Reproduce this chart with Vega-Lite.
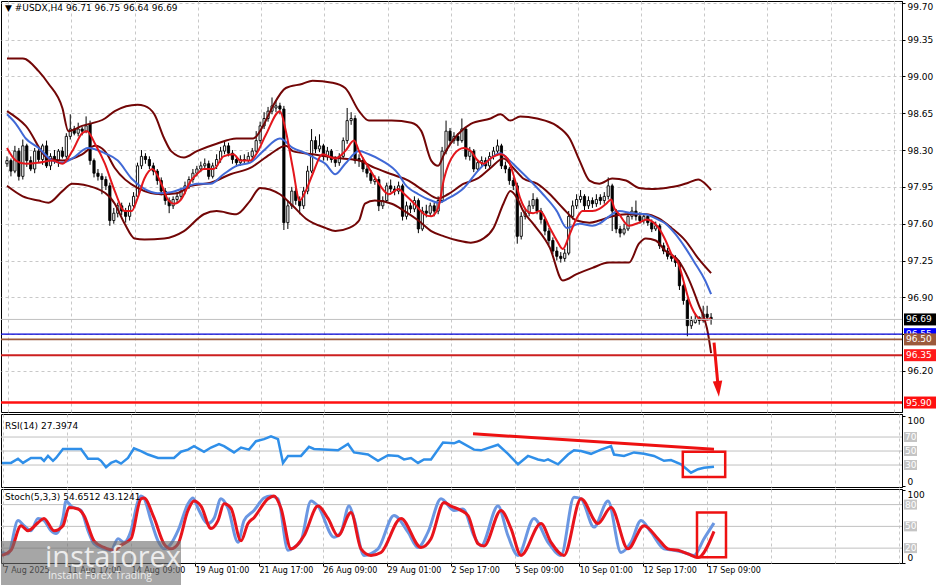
{
  "$schema": "https://vega.github.io/schema/vega-lite/v6.json",
  "background": "white",
  "padding": 0,
  "spacing": 0,
  "config": {
    "view": {"stroke": "black", "strokeWidth": 1},
    "font": "DejaVu Sans",
    "axis": {"labelFont": "DejaVu Sans", "labelFontSize": 9, "labelColor": "black", "domainColor": "black", "tickColor": "black", "gridColor": "#c8c8c8", "gridDash": [3, 3], "gridWidth": 1},
    "title": {"font": "DejaVu Sans", "fontSize": 9, "fontWeight": "normal", "color": "black", "anchor": "start"}
  },
  "datasets": {
    "candles": [
      {"i":0,"o":98.17,"h":98.24,"l":98.14,"c":98.20},{"i":1,"o":98.20,"h":98.22,"l":98.05,"c":98.10},{"i":2,"o":98.10,"h":98.34,"l":98.08,"c":98.29},{"i":3,"o":98.29,"h":98.32,"l":98.01,"c":98.05},{"i":4,"o":98.05,"h":98.40,"l":98.02,"c":98.34},{"i":5,"o":98.34,"h":98.36,"l":98.14,"c":98.20},{"i":6,"o":98.20,"h":98.24,"l":98.10,"c":98.12},{"i":7,"o":98.12,"h":98.32,"l":98.08,"c":98.29},{"i":8,"o":98.29,"h":98.33,"l":98.18,"c":98.21},{"i":9,"o":98.21,"h":98.36,"l":98.16,"c":98.34},
      {"i":10,"o":98.34,"h":98.39,"l":98.13,"c":98.15},{"i":11,"o":98.15,"h":98.27,"l":98.11,"c":98.24},{"i":12,"o":98.24,"h":98.30,"l":98.17,"c":98.20},{"i":13,"o":98.20,"h":98.31,"l":98.14,"c":98.29},{"i":14,"o":98.29,"h":98.33,"l":98.22,"c":98.24},{"i":15,"o":98.24,"h":98.46,"l":98.20,"c":98.43},{"i":16,"o":98.43,"h":98.64,"l":98.40,"c":98.50},{"i":17,"o":98.50,"h":98.53,"l":98.44,"c":98.46},{"i":18,"o":98.46,"h":98.56,"l":98.43,"c":98.50},{"i":19,"o":98.50,"h":98.52,"l":98.44,"c":98.48},
      {"i":20,"o":98.48,"h":98.62,"l":98.46,"c":98.53},{"i":21,"o":98.55,"h":98.58,"l":98.16,"c":98.20},{"i":22,"o":98.20,"h":98.22,"l":98.04,"c":98.08},{"i":23,"o":98.08,"h":98.12,"l":98.01,"c":98.05},{"i":24,"o":98.05,"h":98.08,"l":97.88,"c":98.02},{"i":25,"o":98.02,"h":98.05,"l":97.92,"c":97.96},{"i":26,"o":97.96,"h":97.99,"l":97.58,"c":97.63},{"i":27,"o":97.63,"h":97.75,"l":97.60,"c":97.70},{"i":28,"o":97.70,"h":97.80,"l":97.66,"c":97.77},{"i":29,"o":97.77,"h":97.80,"l":97.68,"c":97.72},
      {"i":30,"o":97.72,"h":97.75,"l":97.61,"c":97.67},{"i":31,"o":97.67,"h":97.80,"l":97.63,"c":97.77},{"i":32,"o":97.77,"h":97.90,"l":97.75,"c":97.86},{"i":33,"o":97.86,"h":98.18,"l":97.84,"c":98.15},{"i":34,"o":98.15,"h":98.30,"l":98.12,"c":98.24},{"i":35,"o":98.24,"h":98.27,"l":98.17,"c":98.21},{"i":36,"o":98.21,"h":98.24,"l":98.12,"c":98.15},{"i":37,"o":98.15,"h":98.18,"l":98.06,"c":98.10},{"i":38,"o":98.10,"h":98.12,"l":97.97,"c":98.01},{"i":39,"o":98.01,"h":98.04,"l":97.87,"c":97.91},
      {"i":40,"o":97.91,"h":97.94,"l":97.78,"c":97.82},{"i":41,"o":97.82,"h":97.85,"l":97.70,"c":97.77},{"i":42,"o":97.77,"h":97.86,"l":97.74,"c":97.83},{"i":43,"o":97.83,"h":97.90,"l":97.80,"c":97.86},{"i":44,"o":97.86,"h":97.94,"l":97.83,"c":97.91},{"i":45,"o":97.91,"h":98.00,"l":97.88,"c":97.96},{"i":46,"o":97.96,"h":98.05,"l":97.93,"c":98.02},{"i":47,"o":98.02,"h":98.12,"l":97.99,"c":98.08},{"i":48,"o":98.08,"h":98.15,"l":98.05,"c":98.12},{"i":49,"o":98.12,"h":98.19,"l":98.09,"c":98.15},
      {"i":50,"o":98.15,"h":98.22,"l":98.12,"c":98.17},{"i":51,"o":98.17,"h":98.20,"l":98.02,"c":98.05},{"i":52,"o":98.05,"h":98.18,"l":98.03,"c":98.15},{"i":53,"o":98.15,"h":98.26,"l":98.12,"c":98.21},{"i":54,"o":98.21,"h":98.33,"l":98.18,"c":98.29},{"i":55,"o":98.29,"h":98.39,"l":98.26,"c":98.34},{"i":56,"o":98.34,"h":98.37,"l":98.24,"c":98.27},{"i":57,"o":98.27,"h":98.30,"l":98.17,"c":98.21},{"i":58,"o":98.21,"h":98.24,"l":98.14,"c":98.18},{"i":59,"o":98.18,"h":98.25,"l":98.15,"c":98.21},
      {"i":60,"o":98.21,"h":98.26,"l":98.16,"c":98.20},{"i":61,"o":98.20,"h":98.28,"l":98.17,"c":98.24},{"i":62,"o":98.24,"h":98.32,"l":98.20,"c":98.29},{"i":63,"o":98.29,"h":98.48,"l":98.27,"c":98.39},{"i":64,"o":98.39,"h":98.57,"l":98.36,"c":98.53},{"i":65,"o":98.53,"h":98.66,"l":98.50,"c":98.60},{"i":66,"o":98.60,"h":98.71,"l":98.57,"c":98.67},{"i":67,"o":98.67,"h":98.80,"l":98.64,"c":98.72},{"i":68,"o":98.70,"h":98.77,"l":98.66,"c":98.72},{"i":69,"o":98.72,"h":98.75,"l":98.64,"c":98.69},
      {"i":70,"o":98.69,"h":98.72,"l":97.54,"c":97.61},{"i":71,"o":97.61,"h":97.82,"l":97.55,"c":97.77},{"i":72,"o":97.77,"h":97.95,"l":97.74,"c":97.91},{"i":73,"o":97.91,"h":97.94,"l":97.78,"c":97.82},{"i":74,"o":97.82,"h":97.86,"l":97.69,"c":97.77},{"i":75,"o":97.77,"h":97.95,"l":97.74,"c":97.91},{"i":76,"o":97.91,"h":98.15,"l":97.88,"c":98.10},{"i":77,"o":98.10,"h":98.50,"l":98.08,"c":98.39},{"i":78,"o":98.39,"h":98.43,"l":98.27,"c":98.31},{"i":79,"o":98.31,"h":98.45,"l":98.28,"c":98.34},
      {"i":80,"o":98.34,"h":98.36,"l":98.20,"c":98.24},{"i":81,"o":98.24,"h":98.33,"l":98.20,"c":98.29},{"i":82,"o":98.29,"h":98.31,"l":98.18,"c":98.21},{"i":83,"o":98.21,"h":98.24,"l":98.14,"c":98.18},{"i":84,"o":98.18,"h":98.27,"l":98.15,"c":98.24},{"i":85,"o":98.24,"h":98.42,"l":98.22,"c":98.39},{"i":86,"o":98.39,"h":98.70,"l":98.36,"c":98.58},{"i":87,"o":98.58,"h":98.66,"l":98.54,"c":98.60},{"i":88,"o":98.60,"h":98.63,"l":98.17,"c":98.20},{"i":89,"o":98.22,"h":98.26,"l":98.14,"c":98.20},
      {"i":90,"o":98.20,"h":98.23,"l":98.09,"c":98.12},{"i":91,"o":98.12,"h":98.15,"l":98.04,"c":98.08},{"i":92,"o":98.08,"h":98.11,"l":97.98,"c":98.01},{"i":93,"o":98.00,"h":98.06,"l":97.97,"c":98.02},{"i":94,"o":98.02,"h":98.05,"l":97.72,"c":97.77},{"i":95,"o":97.77,"h":97.86,"l":97.74,"c":97.82},{"i":96,"o":97.82,"h":97.99,"l":97.80,"c":97.96},{"i":97,"o":97.96,"h":98.02,"l":97.90,"c":97.93},{"i":98,"o":97.93,"h":97.96,"l":97.87,"c":97.91},{"i":99,"o":97.91,"h":98.00,"l":97.88,"c":97.96},
      {"i":100,"o":97.96,"h":97.98,"l":97.63,"c":97.67},{"i":101,"o":97.67,"h":97.81,"l":97.64,"c":97.77},{"i":102,"o":97.77,"h":97.80,"l":97.70,"c":97.74},{"i":103,"o":97.74,"h":97.86,"l":97.71,"c":97.82},{"i":104,"o":97.82,"h":97.84,"l":97.51,"c":97.55},{"i":105,"o":97.55,"h":97.76,"l":97.53,"c":97.72},{"i":106,"o":97.72,"h":97.78,"l":97.66,"c":97.70},{"i":107,"o":97.70,"h":97.80,"l":97.67,"c":97.77},{"i":108,"o":97.77,"h":97.80,"l":97.67,"c":97.72},{"i":109,"o":97.72,"h":97.86,"l":97.69,"c":97.82},
      {"i":110,"o":97.82,"h":98.33,"l":97.80,"c":98.29},{"i":111,"o":98.29,"h":98.58,"l":98.26,"c":98.48},{"i":112,"o":98.48,"h":98.51,"l":98.35,"c":98.39},{"i":113,"o":98.39,"h":98.47,"l":98.36,"c":98.43},{"i":114,"o":98.43,"h":98.46,"l":98.34,"c":98.39},{"i":115,"o":98.39,"h":98.60,"l":98.37,"c":98.50},{"i":116,"o":98.50,"h":98.52,"l":98.21,"c":98.24},{"i":117,"o":98.24,"h":98.33,"l":98.20,"c":98.29},{"i":118,"o":98.29,"h":98.31,"l":98.09,"c":98.12},{"i":119,"o":98.12,"h":98.21,"l":98.10,"c":98.18},
      {"i":120,"o":98.18,"h":98.24,"l":98.15,"c":98.20},{"i":121,"o":98.20,"h":98.23,"l":98.12,"c":98.15},{"i":122,"o":98.15,"h":98.28,"l":98.13,"c":98.24},{"i":123,"o":98.24,"h":98.33,"l":98.21,"c":98.29},{"i":124,"o":98.29,"h":98.40,"l":98.26,"c":98.34},{"i":125,"o":98.34,"h":98.36,"l":98.12,"c":98.15},{"i":126,"o":98.15,"h":98.19,"l":98.08,"c":98.12},{"i":127,"o":98.12,"h":98.14,"l":97.97,"c":98.01},{"i":128,"o":98.01,"h":98.04,"l":97.92,"c":97.96},{"i":129,"o":97.96,"h":97.99,"l":97.41,"c":97.48},
      {"i":130,"o":97.48,"h":97.71,"l":97.45,"c":97.67},{"i":131,"o":97.67,"h":97.74,"l":97.64,"c":97.70},{"i":132,"o":97.70,"h":97.82,"l":97.67,"c":97.77},{"i":133,"o":97.77,"h":97.89,"l":97.74,"c":97.83},{"i":134,"o":97.83,"h":97.85,"l":97.69,"c":97.72},{"i":135,"o":97.72,"h":97.75,"l":97.60,"c":97.64},{"i":136,"o":97.64,"h":97.66,"l":97.49,"c":97.53},{"i":137,"o":97.53,"h":97.56,"l":97.40,"c":97.44},{"i":138,"o":97.44,"h":97.47,"l":97.31,"c":97.34},{"i":139,"o":97.34,"h":97.38,"l":97.25,"c":97.29},
      {"i":140,"o":97.29,"h":97.33,"l":97.23,"c":97.27},{"i":141,"o":97.27,"h":97.36,"l":97.24,"c":97.32},{"i":142,"o":97.32,"h":97.72,"l":97.30,"c":97.67},{"i":143,"o":97.67,"h":97.82,"l":97.64,"c":97.77},{"i":144,"o":97.77,"h":97.88,"l":97.74,"c":97.83},{"i":145,"o":97.83,"h":97.92,"l":97.80,"c":97.86},{"i":146,"o":97.86,"h":97.88,"l":97.73,"c":97.77},{"i":147,"o":97.77,"h":97.86,"l":97.74,"c":97.82},{"i":148,"o":97.82,"h":97.85,"l":97.75,"c":97.79},{"i":149,"o":97.79,"h":97.88,"l":97.76,"c":97.83},
      {"i":150,"o":97.85,"h":97.88,"l":97.78,"c":97.82},{"i":151,"o":97.82,"h":97.90,"l":97.79,"c":97.86},{"i":152,"o":97.86,"h":98.04,"l":97.83,"c":97.96},{"i":153,"o":97.96,"h":97.98,"l":97.53,"c":97.72},{"i":154,"o":97.72,"h":97.74,"l":97.51,"c":97.55},{"i":155,"o":97.55,"h":97.58,"l":97.47,"c":97.51},{"i":156,"o":97.51,"h":97.60,"l":97.49,"c":97.55},{"i":157,"o":97.55,"h":97.71,"l":97.53,"c":97.67},{"i":158,"o":97.67,"h":97.76,"l":97.64,"c":97.72},{"i":159,"o":97.72,"h":97.82,"l":97.63,"c":97.67},
      {"i":160,"o":97.67,"h":97.71,"l":97.60,"c":97.63},{"i":161,"o":97.63,"h":97.70,"l":97.60,"c":97.67},{"i":162,"o":97.67,"h":97.69,"l":97.58,"c":97.61},{"i":163,"o":97.61,"h":97.64,"l":97.52,"c":97.55},{"i":164,"o":97.55,"h":97.62,"l":97.53,"c":97.58},{"i":165,"o":97.58,"h":97.60,"l":97.36,"c":97.39},{"i":166,"o":97.39,"h":97.42,"l":97.31,"c":97.34},{"i":167,"o":97.34,"h":97.37,"l":97.26,"c":97.29},{"i":168,"o":97.29,"h":97.32,"l":97.24,"c":97.27},{"i":169,"o":97.27,"h":97.30,"l":97.19,"c":97.23},
      {"i":170,"o":97.23,"h":97.25,"l":96.97,"c":97.01},{"i":171,"o":97.01,"h":97.03,"l":96.83,"c":96.87},{"i":172,"o":96.87,"h":96.89,"l":96.53,"c":96.63},{"i":173,"o":96.63,"h":96.72,"l":96.60,"c":96.68},{"i":174,"o":96.66,"h":96.74,"l":96.65,"c":96.69},{"i":175,"o":96.71,"h":96.72,"l":96.64,"c":96.68},{"i":176,"o":96.68,"h":96.82,"l":96.66,"c":96.74},{"i":177,"o":96.74,"h":96.82,"l":96.68,"c":96.71},{"i":178,"o":96.71,"h":96.75,"l":96.64,"c":96.69}
    ],
    "bandUp": [
      {"i":0,"v":99.17},{"i":4,"v":99.17},{"i":8,"v":99.05},{"i":10.5,"v":98.93},{"i":14,"v":98.70},{"i":15.5,"v":98.48},{"i":19,"v":98.53},{"i":24.75,"v":98.60},{"i":27.25,"v":98.67},{"i":33,"v":98.73},{"i":34.75,"v":98.72},{"i":37.25,"v":98.64},{"i":39.75,"v":98.41},{"i":41.5,"v":98.29},{"i":44.75,"v":98.23},{"i":48,"v":98.29},{"i":53,"v":98.36},{"i":58,"v":98.41},{"i":62.25,"v":98.41},{"i":64.75,"v":98.53},{"i":67.25,"v":98.72},{"i":70.5,"v":98.89},{"i":74.75,"v":98.93},{"i":77.25,"v":98.96},{"i":82.25,"v":98.94},{"i":85.5,"v":98.89},{"i":89,"v":98.67},{"i":91.5,"v":98.58},{"i":97.25,"v":98.58},{"i":102.25,"v":98.56},{"i":104.75,"v":98.48},{"i":107.25,"v":98.20},{"i":109,"v":98.15},{"i":110.5,"v":98.26},{"i":114,"v":98.45},{"i":117.25,"v":98.55},{"i":122.25,"v":98.60},{"i":124.75,"v":98.64},{"i":127.25,"v":98.58},{"i":129.75,"v":98.62},{"i":134,"v":98.60},{"i":139,"v":98.53},{"i":142.25,"v":98.41},{"i":144.75,"v":98.20},{"i":147.25,"v":98.01},{"i":149.75,"v":97.98},{"i":153,"v":98.03},{"i":156.5,"v":98.01},{"i":159.75,"v":97.94},{"i":163,"v":97.93},{"i":166.5,"v":97.94},{"i":169.75,"v":97.96},{"i":172.25,"v":97.99},{"i":174.75,"v":98.02},{"i":176.5,"v":97.98},{"i":178,"v":97.92}
    ],
    "bandMid": [
      {"i":0,"v":98.67},{"i":4.75,"v":98.53},{"i":10.5,"v":98.22},{"i":14,"v":98.20},{"i":19,"v":98.26},{"i":22.25,"v":98.34},{"i":24.75,"v":98.29},{"i":27.25,"v":98.13},{"i":33,"v":97.94},{"i":39,"v":97.88},{"i":43,"v":97.89},{"i":46.5,"v":97.96},{"i":51.5,"v":97.99},{"i":56.5,"v":98.07},{"i":61.5,"v":98.13},{"i":66.5,"v":98.26},{"i":70.5,"v":98.34},{"i":72.25,"v":98.29},{"i":77.25,"v":98.26},{"i":80.5,"v":98.24},{"i":84.75,"v":98.22},{"i":89,"v":98.20},{"i":93,"v":98.13},{"i":97.25,"v":98.07},{"i":101.5,"v":98.01},{"i":105.5,"v":97.91},{"i":109,"v":97.84},{"i":111.5,"v":97.88},{"i":115.5,"v":97.98},{"i":119,"v":98.03},{"i":122.25,"v":98.13},{"i":125.5,"v":98.22},{"i":128,"v":98.13},{"i":130.5,"v":98.03},{"i":134,"v":97.98},{"i":137.25,"v":97.88},{"i":140.5,"v":97.75},{"i":144,"v":97.63},{"i":147.25,"v":97.61},{"i":149.75,"v":97.63},{"i":153,"v":97.67},{"i":156.5,"v":97.69},{"i":161.5,"v":97.69},{"i":164.75,"v":97.65},{"i":168,"v":97.56},{"i":171.5,"v":97.44},{"i":174.75,"v":97.27},{"i":178,"v":97.13}
    ],
    "bandLow": [
      {"i":0,"v":97.96},{"i":4,"v":97.86},{"i":8,"v":97.82},{"i":10.5,"v":97.80},{"i":14,"v":97.91},{"i":16.5,"v":97.98},{"i":22.25,"v":97.94},{"i":27.25,"v":97.79},{"i":29.75,"v":97.60},{"i":32.25,"v":97.46},{"i":34.75,"v":97.45},{"i":39.75,"v":97.46},{"i":44.75,"v":97.53},{"i":49.75,"v":97.69},{"i":53,"v":97.72},{"i":58,"v":97.69},{"i":61.5,"v":97.82},{"i":64,"v":97.94},{"i":69,"v":97.88},{"i":72.25,"v":97.77},{"i":75.5,"v":97.65},{"i":80.5,"v":97.56},{"i":83,"v":97.53},{"i":86.5,"v":97.56},{"i":89,"v":97.63},{"i":90.5,"v":97.79},{"i":93,"v":97.82},{"i":97.25,"v":97.79},{"i":100.5,"v":97.72},{"i":104,"v":97.63},{"i":107.25,"v":97.53},{"i":110.5,"v":97.48},{"i":114,"v":97.44},{"i":117.25,"v":97.42},{"i":120.5,"v":97.46},{"i":123,"v":97.56},{"i":125.5,"v":97.79},{"i":127.25,"v":97.91},{"i":129,"v":97.84},{"i":130.5,"v":97.72},{"i":133,"v":97.60},{"i":137.25,"v":97.37},{"i":140.5,"v":97.06},{"i":144,"v":97.12},{"i":148,"v":97.18},{"i":152.25,"v":97.23},{"i":157.25,"v":97.23},{"i":159.75,"v":97.41},{"i":161.5,"v":97.46},{"i":164,"v":97.44},{"i":166.5,"v":97.34},{"i":169.75,"v":97.25},{"i":172.25,"v":97.08},{"i":174.75,"v":96.84},{"i":177.25,"v":96.55},{"i":178,"v":96.37}
    ],
    "maBlue": [
      {"i":0,"v":98.64},{"i":2.25,"v":98.55},{"i":4.75,"v":98.41},{"i":8,"v":98.32},{"i":11.5,"v":98.20},{"i":14,"v":98.18},{"i":16.5,"v":98.22},{"i":20.5,"v":98.32},{"i":24.75,"v":98.27},{"i":28,"v":98.20},{"i":31.5,"v":98.03},{"i":34.75,"v":97.93},{"i":38,"v":97.89},{"i":41.5,"v":97.90},{"i":44.75,"v":97.94},{"i":48,"v":97.98},{"i":51.5,"v":97.98},{"i":54.75,"v":98.07},{"i":58,"v":98.15},{"i":61.5,"v":98.18},{"i":64.75,"v":98.29},{"i":69,"v":98.41},{"i":72.25,"v":98.32},{"i":75.5,"v":98.27},{"i":78,"v":98.22},{"i":80.5,"v":98.17},{"i":83,"v":98.07},{"i":85.5,"v":98.17},{"i":89,"v":98.29},{"i":91.5,"v":98.26},{"i":94.75,"v":98.20},{"i":99,"v":98.07},{"i":100.5,"v":97.98},{"i":104,"v":97.88},{"i":107.25,"v":97.82},{"i":109,"v":97.80},{"i":111.5,"v":97.84},{"i":115.5,"v":97.94},{"i":119,"v":98.10},{"i":122.25,"v":98.22},{"i":124.75,"v":98.27},{"i":126.5,"v":98.22},{"i":129,"v":98.13},{"i":132.25,"v":98.01},{"i":135.5,"v":97.88},{"i":139,"v":97.72},{"i":141.5,"v":97.56},{"i":144.75,"v":97.60},{"i":148,"v":97.58},{"i":149.75,"v":97.60},{"i":152.25,"v":97.67},{"i":154.75,"v":97.72},{"i":158,"v":97.70},{"i":161.5,"v":97.69},{"i":164,"v":97.65},{"i":166.5,"v":97.60},{"i":169,"v":97.50},{"i":171.5,"v":97.37},{"i":174,"v":97.22},{"i":176.5,"v":97.06},{"i":178,"v":96.93}
    ],
    "maRed": [
      {"i":0,"v":98.32},{"i":2.25,"v":98.20},{"i":4.75,"v":98.17},{"i":8,"v":98.18},{"i":11.5,"v":98.20},{"i":14,"v":98.17},{"i":16.5,"v":98.29},{"i":19,"v":98.46},{"i":20.25,"v":98.48},{"i":22.25,"v":98.36},{"i":24.75,"v":98.17},{"i":27.25,"v":97.91},{"i":29.75,"v":97.72},{"i":31.5,"v":97.72},{"i":33,"v":97.84},{"i":34.75,"v":98.03},{"i":36.75,"v":98.12},{"i":39,"v":97.98},{"i":40.5,"v":97.84},{"i":42.25,"v":97.79},{"i":44,"v":97.83},{"i":46.5,"v":98.01},{"i":48,"v":98.07},{"i":49.75,"v":98.12},{"i":52.25,"v":98.12},{"i":54.75,"v":98.24},{"i":57.25,"v":98.26},{"i":59,"v":98.20},{"i":61.5,"v":98.20},{"i":63,"v":98.26},{"i":65.5,"v":98.45},{"i":69,"v":98.67},{"i":70.5,"v":98.48},{"i":72.25,"v":98.13},{"i":74,"v":97.82},{"i":75.5,"v":97.91},{"i":77.25,"v":98.07},{"i":79.75,"v":98.26},{"i":83,"v":98.22},{"i":85.5,"v":98.29},{"i":87.75,"v":98.39},{"i":89,"v":98.29},{"i":91.5,"v":98.13},{"i":94,"v":97.98},{"i":96.5,"v":97.88},{"i":99,"v":97.93},{"i":100.5,"v":97.88},{"i":103,"v":97.79},{"i":105.5,"v":97.69},{"i":107.25,"v":97.67},{"i":109,"v":97.75},{"i":110.5,"v":98.03},{"i":113,"v":98.26},{"i":115.5,"v":98.32},{"i":117.25,"v":98.29},{"i":119,"v":98.20},{"i":120.5,"v":98.17},{"i":122.25,"v":98.22},{"i":124.75,"v":98.26},{"i":126.5,"v":98.22},{"i":128,"v":98.07},{"i":129.75,"v":97.84},{"i":131.5,"v":97.72},{"i":133,"v":97.70},{"i":134.75,"v":97.72},{"i":137.25,"v":97.56},{"i":139,"v":97.44},{"i":140.5,"v":97.36},{"i":142.25,"v":97.50},{"i":144,"v":97.65},{"i":145.5,"v":97.72},{"i":148,"v":97.72},{"i":149.75,"v":97.74},{"i":151.5,"v":97.79},{"i":152.75,"v":97.83},{"i":153.5,"v":97.75},{"i":154.75,"v":97.69},{"i":157.25,"v":97.58},{"i":159.75,"v":97.61},{"i":161.75,"v":97.64},{"i":163.5,"v":97.61},{"i":164.75,"v":97.56},{"i":166.5,"v":97.44},{"i":168,"v":97.31},{"i":169.75,"v":97.22},{"i":171,"v":97.06},{"i":172.25,"v":96.89},{"i":174,"v":96.74},{"i":175.5,"v":96.69},{"i":177.25,"v":96.69},{"i":178,"v":96.70}
    ],
    "levels": [
      {"k":"a","p":96.69,"t":"96.69"},{"k":"b","p":96.55,"t":"96.55"},{"k":"c","p":96.50,"t":"96.50"},{"k":"d","p":96.35,"t":"96.35"},{"k":"e","p":95.90,"t":"95.90"}
    ],
    "arrow": [{"i":178.75,"p":96.47,"i2":179.75,"p2":96.06,"hi":179.8,"hp":96.03}],
    "rsi": [
      {"i":0,"v":33},{"i":2.25,"v":33},{"i":4,"v":39},{"i":5.25,"v":33},{"i":7.25,"v":40},{"i":9.75,"v":40},{"i":10.5,"v":36},{"i":11.5,"v":43},{"i":12.75,"v":36},{"i":13.5,"v":40},{"i":15.25,"v":53},{"i":19.75,"v":53},{"i":21.5,"v":39},{"i":24,"v":39},{"i":24.75,"v":36},{"i":26,"v":27},{"i":27.25,"v":33},{"i":28.5,"v":36},{"i":29.75,"v":32},{"i":31.5,"v":40},{"i":33,"v":54},{"i":34.75,"v":50},{"i":36.5,"v":45},{"i":39,"v":40},{"i":43,"v":40},{"i":44.75,"v":49},{"i":46.5,"v":52},{"i":48,"v":57},{"i":50.5,"v":49},{"i":52.25,"v":55},{"i":54.25,"v":60},{"i":55.5,"v":57},{"i":58,"v":48},{"i":59.75,"v":55},{"i":61.75,"v":52},{"i":63.5,"v":64},{"i":65.5,"v":67},{"i":67.25,"v":71},{"i":69,"v":67},{"i":70.25,"v":33},{"i":71.5,"v":43},{"i":74.75,"v":43},{"i":76.75,"v":56},{"i":78,"v":53},{"i":84,"v":51},{"i":86.5,"v":60},{"i":88,"v":48},{"i":91.5,"v":45},{"i":94,"v":36},{"i":96.5,"v":44},{"i":99,"v":43},{"i":100.5,"v":38},{"i":102.25,"v":40},{"i":104,"v":33},{"i":105.5,"v":38},{"i":107.25,"v":38},{"i":110.25,"v":62},{"i":113,"v":61},{"i":114.25,"v":64},{"i":118,"v":52},{"i":119.75,"v":51},{"i":124,"v":59},{"i":126.5,"v":46},{"i":129,"v":31},{"i":131.5,"v":43},{"i":134,"v":38},{"i":135.5,"v":36},{"i":136.5,"v":38},{"i":139,"v":31},{"i":141.5,"v":45},{"i":143,"v":51},{"i":144.75,"v":50},{"i":147.25,"v":46},{"i":149.75,"v":52},{"i":152.25,"v":57},{"i":153,"v":45},{"i":155.5,"v":43},{"i":158,"v":48},{"i":160.5,"v":46},{"i":163,"v":43},{"i":165.5,"v":36},{"i":167.25,"v":37},{"i":169.75,"v":31},{"i":172.25,"v":19},{"i":174,"v":24},{"i":175.5,"v":26},{"i":178,"v":27.4}
    ],
    "rsiLevels": [{"v":70},{"v":50},{"v":30}],
    "rsiTrend": [{"i":117.75,"v":74.7,"i2":178,"v2":52.4}],
    "rsiBox": [{"i":170.2,"v":49,"i2":180.8,"v2":12.9}],
    "stochK": [
      {"i":0,"v":14},{"i":1.5,"v":12},{"i":4,"v":58},{"i":5.5,"v":51},{"i":7.25,"v":44},{"i":9,"v":61},{"i":10.5,"v":58},{"i":12.25,"v":44},{"i":13.5,"v":40},{"i":15.25,"v":62},{"i":16,"v":85},{"i":17.25,"v":78},{"i":19.75,"v":72},{"i":21.5,"v":44},{"i":23,"v":26},{"i":25.5,"v":19},{"i":27.25,"v":17},{"i":29,"v":33},{"i":30.5,"v":28},{"i":32.25,"v":44},{"i":34,"v":85},{"i":34.75,"v":92},{"i":35.5,"v":89},{"i":37.25,"v":58},{"i":39,"v":30},{"i":40.5,"v":19},{"i":42.25,"v":26},{"i":44,"v":44},{"i":46.5,"v":81},{"i":47.75,"v":89},{"i":49,"v":75},{"i":51.5,"v":54},{"i":53,"v":61},{"i":54.75,"v":88},{"i":56.5,"v":75},{"i":59,"v":28},{"i":60.5,"v":58},{"i":63,"v":72},{"i":65.5,"v":89},{"i":67.25,"v":92},{"i":69,"v":88},{"i":71.5,"v":17},{"i":73,"v":21},{"i":74.75,"v":30},{"i":77.25,"v":85},{"i":79,"v":78},{"i":83,"v":35},{"i":84.75,"v":42},{"i":86.75,"v":78},{"i":88,"v":61},{"i":90.5,"v":10},{"i":94,"v":19},{"i":98,"v":65},{"i":101.5,"v":42},{"i":104,"v":21},{"i":106.5,"v":42},{"i":109.75,"v":88},{"i":113,"v":72},{"i":115.25,"v":74},{"i":118,"v":37},{"i":119.75,"v":23},{"i":124,"v":78},{"i":126.5,"v":37},{"i":129,"v":10},{"i":133,"v":61},{"i":136.5,"v":28},{"i":139.75,"v":10},{"i":143,"v":90},{"i":144.75,"v":88},{"i":148,"v":49},{"i":151.5,"v":85},{"i":154.75,"v":14},{"i":157.25,"v":28},{"i":159.75,"v":58},{"i":162.25,"v":42},{"i":165.5,"v":19},{"i":168,"v":17},{"i":170.5,"v":14},{"i":173,"v":10},{"i":175.5,"v":33},{"i":178,"v":54.65}
    ],
    "stochD": [
      {"i":0,"v":10},{"i":2.25,"v":17},{"i":4.75,"v":51},{"i":6.5,"v":44},{"i":9,"v":55},{"i":10.5,"v":61},{"i":13,"v":44},{"i":15.25,"v":51},{"i":16.75,"v":76},{"i":19,"v":74},{"i":20.5,"v":65},{"i":23,"v":30},{"i":25.5,"v":21},{"i":28,"v":17},{"i":29.75,"v":24},{"i":32.25,"v":33},{"i":34.75,"v":88},{"i":35.5,"v":89},{"i":38,"v":62},{"i":40.5,"v":26},{"i":42.25,"v":19},{"i":44,"v":26},{"i":46.5,"v":72},{"i":48,"v":85},{"i":49.75,"v":78},{"i":52.25,"v":47},{"i":54,"v":58},{"i":55.5,"v":81},{"i":57.25,"v":75},{"i":59.75,"v":30},{"i":61.5,"v":54},{"i":63,"v":62},{"i":66.5,"v":88},{"i":68,"v":92},{"i":69.75,"v":75},{"i":72.25,"v":19},{"i":75.5,"v":37},{"i":79,"v":78},{"i":81.5,"v":61},{"i":84,"v":37},{"i":87.25,"v":69},{"i":89.75,"v":19},{"i":92.25,"v":10},{"i":94.75,"v":14},{"i":99.75,"v":61},{"i":104.75,"v":21},{"i":107.25,"v":33},{"i":110.5,"v":83},{"i":112.25,"v":78},{"i":114.75,"v":72},{"i":116.5,"v":65},{"i":119,"v":26},{"i":120.5,"v":23},{"i":124.75,"v":72},{"i":127.25,"v":47},{"i":129.75,"v":10},{"i":134.75,"v":54},{"i":137.25,"v":28},{"i":140.5,"v":10},{"i":144.75,"v":88},{"i":149,"v":54},{"i":152.25,"v":76},{"i":156.5,"v":19},{"i":160.5,"v":51},{"i":164,"v":33},{"i":166.5,"v":19},{"i":169,"v":17},{"i":171.5,"v":12},{"i":174,"v":7},{"i":178,"v":43.12}
    ],
    "stochLevels": [{"v":80},{"v":50},{"v":20}],
    "stochBox": [{"i":173.75,"v":69,"i2":181,"v2":7.4}],
    "watermark": [{"i":-0.25,"v":29.8,"i2":44.75,"v2":-32.2}],
    "one": [{}]
  },
  "vconcat": [
    {
      "width": 901,
      "height": 411,
      "title": {"text": "▼ #USDX,H4  96.71 96.75 96.64 96.69", "offset": -12, "dx": 4},
      "layer": [
        {
          "data": {"name": "candles"},
          "mark": {"type": "rule", "color": "black", "strokeWidth": 1, "clip": true},
          "encoding": {
            "x": {"field": "i", "type": "quantitative", "title": null, "scale": {"domain": [-0.25, 225], "nice": false, "zero": false},
                  "axis": {"values": [0.25,8.25,16.25,24.25,32.25,40.25,48.25,56.25,64.25,72.25,80.25,88.25,96.25,104.25,112.25,120.25,128.25,136.25,144.25,152.25,160.25,168.25,176.25,184.25,192.25,200.25,208.25,216.25,224.25], "labels": false, "ticks": false, "domain": false, "grid": true}},
            "y": {"field": "l", "type": "quantitative", "title": null, "scale": {"domain": [95.81, 99.717], "nice": false, "zero": false},
                  "axis": {"orient": "right", "values": [96.2,96.55,96.9,97.25,97.6,97.95,98.3,98.65,99,99.35,99.7], "format": ".2f", "labelExpr": "datum.value == 96.55 ? '' : datum.label", "grid": true, "tickSize": 3, "labelPadding": 2, "labelFlush": 5, "domain": true}},
            "y2": {"field": "h"}
          }
        },
        {
          "data": {"name": "candles"},
          "mark": {"type": "bar", "size": 2.2, "stroke": "black", "strokeWidth": 0.9, "clip": true},
          "encoding": {
            "x": {"field": "i", "type": "quantitative", "title": null},
            "y": {"field": "o", "type": "quantitative", "title": null},
            "y2": {"field": "c"},
            "fill": {"condition": {"test": "datum.c < datum.o", "value": "black"}, "value": "white"}
          }
        },
        {"data": {"name": "bandUp"}, "mark": {"type": "line", "color": "#720606", "strokeWidth": 2, "interpolate": "monotone", "clip": true}, "encoding": {"x": {"field": "i", "type": "quantitative", "title": null}, "y": {"field": "v", "type": "quantitative", "title": null}}},
        {"data": {"name": "bandMid"}, "mark": {"type": "line", "color": "#720606", "strokeWidth": 2, "interpolate": "monotone", "clip": true}, "encoding": {"x": {"field": "i", "type": "quantitative", "title": null}, "y": {"field": "v", "type": "quantitative", "title": null}}},
        {"data": {"name": "bandLow"}, "mark": {"type": "line", "color": "#720606", "strokeWidth": 2, "interpolate": "monotone", "clip": true}, "encoding": {"x": {"field": "i", "type": "quantitative", "title": null}, "y": {"field": "v", "type": "quantitative", "title": null}}},
        {"data": {"name": "maBlue"}, "mark": {"type": "line", "color": "#4169d6", "strokeWidth": 2, "interpolate": "monotone", "clip": true}, "encoding": {"x": {"field": "i", "type": "quantitative", "title": null}, "y": {"field": "v", "type": "quantitative", "title": null}}},
        {"data": {"name": "maRed"}, "mark": {"type": "line", "color": "#e3161c", "strokeWidth": 2, "interpolate": "monotone", "clip": true}, "encoding": {"x": {"field": "i", "type": "quantitative", "title": null}, "y": {"field": "v", "type": "quantitative", "title": null}}},
        {
          "data": {"name": "levels"},
          "mark": {"type": "rule", "clip": true},
          "encoding": {
            "y": {"field": "p", "type": "quantitative", "title": null},
            "stroke": {"field": "k", "type": "nominal", "scale": {"domain": ["a","b","c","d","e"], "range": ["#c0c0c0","#0000d8","#9c5a3c","#cc1f1f","#ff1010"]}, "legend": null},
            "strokeWidth": {"field": "k", "type": "nominal", "scale": {"domain": ["a","b","c","d","e"], "range": [1,2.5,3,2,2.5]}, "legend": null}
          }
        },
        {
          "data": {"name": "arrow"},
          "mark": {"type": "rule", "color": "#f01010", "strokeWidth": 3, "clip": true},
          "encoding": {"x": {"field": "i", "type": "quantitative", "title": null}, "y": {"field": "p", "type": "quantitative", "title": null}, "x2": {"field": "i2"}, "y2": {"field": "p2"}}
        },
        {
          "data": {"name": "arrow"},
          "mark": {"type": "point", "shape": "M-0.6,-1L0.6,-1L0,1Z", "filled": true, "color": "#f01010", "opacity": 1, "size": 250, "angle": 355, "clip": true},
          "encoding": {"x": {"field": "hi", "type": "quantitative", "title": null}, "y": {"field": "hp", "type": "quantitative", "title": null}}
        },
        {
          "data": {"name": "levels"},
          "transform": [{"filter": "datum.k == 'b'"}],
          "mark": {"type": "rect", "xOffset": 2, "x2Offset": 34, "yOffset": -6, "y2Offset": 6},
          "encoding": {
            "x": {"value": "width"}, "x2": {"value": "width"},
            "y": {"field": "p", "type": "quantitative", "title": null}, "y2": {"field": "p"},
            "fill": {"field": "k", "type": "nominal", "scale": {"domain": ["a","b","c","d","e"], "range": ["#000000","#0000ff","#9c5a3c","#ff1a1a","#ff1010"]}, "legend": null}
          }
        },
        {
          "data": {"name": "levels"},
          "transform": [{"filter": "datum.k == 'b'"}],
          "mark": {"type": "text", "align": "left", "baseline": "middle", "dx": 4, "fontSize": 9, "color": "white"},
          "encoding": {"x": {"value": "width"}, "y": {"field": "p", "type": "quantitative", "title": null}, "text": {"field": "t"}}
        },
        {
          "data": {"name": "levels"},
          "transform": [{"filter": "datum.k != 'b'"}],
          "mark": {"type": "rect", "xOffset": 2, "x2Offset": 34, "yOffset": -6, "y2Offset": 6},
          "encoding": {
            "x": {"value": "width"}, "x2": {"value": "width"},
            "y": {"field": "p", "type": "quantitative", "title": null}, "y2": {"field": "p"},
            "fill": {"field": "k", "type": "nominal", "scale": {"domain": ["a","b","c","d","e"], "range": ["#000000","#0000ff","#9c5a3c","#ff1a1a","#ff1010"]}, "legend": null}
          }
        },
        {
          "data": {"name": "levels"},
          "transform": [{"filter": "datum.k != 'b'"}],
          "mark": {"type": "text", "align": "left", "baseline": "middle", "dx": 4, "fontSize": 9, "color": "white"},
          "encoding": {"x": {"value": "width"}, "y": {"field": "p", "type": "quantitative", "title": null}, "text": {"field": "t"}}
        }
      ]
    },
    {
      "width": 901,
      "height": 73,
      "title": {"text": "RSI(14) 27.3974", "offset": -17, "dx": 4},
      "layer": [
        {
          "data": {"name": "rsiLevels"},
          "mark": {"type": "rule", "color": "#c0c0c0", "strokeWidth": 1, "clip": true},
          "encoding": {
            "y": {"field": "v", "type": "quantitative", "title": null, "scale": {"domain": [-1.4, 102.9], "nice": false, "zero": false},
                  "axis": {"orient": "right", "values": [0, 100], "grid": false, "tickSize": 3, "labelPadding": 2, "labelFlush": 5, "domain": true}}
          }
        },
        {
          "data": {"name": "rsi"},
          "mark": {"type": "line", "color": "#2f8fe9", "strokeWidth": 2.5, "clip": true},
          "encoding": {
            "x": {"field": "i", "type": "quantitative", "title": null, "scale": {"domain": [-0.25, 225], "nice": false, "zero": false},
                  "axis": {"values": [0.25,8.25,16.25,24.25,32.25,40.25,48.25,56.25,64.25,72.25,80.25,88.25,96.25,104.25,112.25,120.25,128.25,136.25,144.25,152.25,160.25,168.25,176.25,184.25,192.25,200.25,208.25,216.25,224.25], "labels": false, "ticks": false, "domain": false, "grid": true}},
            "y": {"field": "v", "type": "quantitative", "title": null}
          }
        },
        {
          "data": {"name": "rsiTrend"},
          "mark": {"type": "rule", "color": "#ee1111", "strokeWidth": 3, "clip": true},
          "encoding": {"x": {"field": "i", "type": "quantitative", "title": null}, "y": {"field": "v", "type": "quantitative", "title": null}, "x2": {"field": "i2"}, "y2": {"field": "v2"}}
        },
        {
          "data": {"name": "rsiBox"},
          "mark": {"type": "rect", "fillOpacity": 0, "stroke": "#ee1111", "strokeWidth": 2.5, "clip": true},
          "encoding": {"x": {"field": "i", "type": "quantitative", "title": null}, "y": {"field": "v", "type": "quantitative", "title": null}, "x2": {"field": "i2"}, "y2": {"field": "v2"}}
        },
        {
          "data": {"name": "rsiLevels"},
          "mark": {"type": "rect", "color": "#c4c4c4", "xOffset": 2, "x2Offset": 15, "yOffset": -5, "y2Offset": 5},
          "encoding": {"x": {"value": "width"}, "x2": {"value": "width"}, "y": {"field": "v", "type": "quantitative", "title": null}, "y2": {"field": "v"}}
        },
        {
          "data": {"name": "rsiLevels"},
          "mark": {"type": "text", "align": "left", "baseline": "middle", "dx": 3, "fontSize": 9, "color": "white"},
          "encoding": {"x": {"value": "width"}, "y": {"field": "v", "type": "quantitative", "title": null}, "text": {"field": "v", "type": "quantitative"}}
        }
      ]
    },
    {
      "width": 901,
      "height": 74,
      "title": {"text": "Stoch(5,3,3) 54.6512 43.1241", "offset": -13, "dx": 4},
      "layer": [
        {
          "data": {"name": "stochLevels"},
          "mark": {"type": "rule", "color": "#c0c0c0", "strokeWidth": 1, "clip": true},
          "encoding": {
            "y": {"field": "v", "type": "quantitative", "title": null, "scale": {"domain": [-0.5, 101.5], "nice": false, "zero": false},
                  "axis": {"orient": "right", "values": [0, 100], "grid": false, "tickSize": 3, "labelPadding": 2, "labelFlush": 5, "domain": true}}
          }
        },
        {
          "data": {"name": "stochK"},
          "mark": {"type": "line", "color": "#6b97e2", "strokeWidth": 3, "interpolate": "monotone", "clip": true},
          "encoding": {
            "x": {"field": "i", "type": "quantitative", "title": null, "scale": {"domain": [-0.25, 225], "nice": false, "zero": false},
                  "axis": {"values": [0.25,8.25,16.25,24.25,32.25,40.25,48.25,56.25,64.25,72.25,80.25,88.25,96.25,104.25,112.25,120.25,128.25,136.25,144.25,152.25,160.25,168.25,176.25,184.25,192.25,200.25,208.25,216.25,224.25],
                           "grid": true, "domain": false, "ticks": true, "tickSize": 3,
                           "tickOpacity": {"condition": {"test": "(datum.value - 0.25) % 16 == 0 && datum.value < 180", "value": 1}, "value": 0},
                           "labelExpr": "(datum.value - 0.25) % 16 == 0 && datum.value < 180 ? ['7 Aug 2025','11 Aug 17:00','14 Aug 09:00','19 Aug 01:00','21 Aug 17:00','26 Aug 09:00','29 Aug 01:00','2 Sep 17:00','5 Sep 09:00','10 Sep 01:00','12 Sep 17:00','17 Sep 09:00'][(datum.value - 0.25) / 16] : ''",
                           "labelAlign": "left", "labelBaseline": "top", "labelPadding": 0, "labelFontSize": 8, "labelOverlap": false, "labelFlush": false, "labelBound": false}},
            "y": {"field": "v", "type": "quantitative", "title": null}
          }
        },
        {
          "data": {"name": "stochD"},
          "mark": {"type": "line", "color": "#e8141c", "strokeWidth": 3, "interpolate": "monotone", "clip": true},
          "encoding": {"x": {"field": "i", "type": "quantitative", "title": null}, "y": {"field": "v", "type": "quantitative", "title": null}}
        },
        {
          "data": {"name": "stochBox"},
          "mark": {"type": "rect", "fillOpacity": 0, "stroke": "#ee1111", "strokeWidth": 2.5, "clip": true},
          "encoding": {"x": {"field": "i", "type": "quantitative", "title": null}, "y": {"field": "v", "type": "quantitative", "title": null}, "x2": {"field": "i2"}, "y2": {"field": "v2"}}
        },
        {
          "data": {"name": "stochLevels"},
          "mark": {"type": "rect", "color": "#c4c4c4", "xOffset": 2, "x2Offset": 15, "yOffset": -5, "y2Offset": 5},
          "encoding": {"x": {"value": "width"}, "x2": {"value": "width"}, "y": {"field": "v", "type": "quantitative", "title": null}, "y2": {"field": "v"}}
        },
        {
          "data": {"name": "stochLevels"},
          "mark": {"type": "text", "align": "left", "baseline": "middle", "dx": 3, "fontSize": 9, "color": "white"},
          "encoding": {"x": {"value": "width"}, "y": {"field": "v", "type": "quantitative", "title": null}, "text": {"field": "v", "type": "quantitative"}}
        },
        {
          "data": {"name": "watermark"},
          "mark": {"type": "rect", "fill": "#707070", "fillOpacity": 0.62},
          "encoding": {"x": {"field": "i", "type": "quantitative", "title": null}, "x2": {"field": "i2"}, "y": {"field": "v", "type": "quantitative", "title": null}, "y2": {"field": "v2"}}
        },
        {
          "data": {"name": "one"},
          "mark": {"type": "text", "text": "instaforex", "font": "Open Sans", "fontSize": 29, "color": "#f4f4f4", "opacity": 0.9, "align": "center", "baseline": "middle"},
          "encoding": {"x": {"datum": 27.75, "type": "quantitative"}, "y": {"datum": 7, "type": "quantitative"}}
        },
        {
          "data": {"name": "one"},
          "mark": {"type": "text", "text": "Instant Forex Trading", "font": "Open Sans", "fontSize": 10.5, "color": "#f4f4f4", "opacity": 0.9, "align": "center", "baseline": "middle"},
          "encoding": {"x": {"datum": 24.5, "type": "quantitative"}, "y": {"datum": -18.5, "type": "quantitative"}}
        }
      ]
    }
  ]
}
